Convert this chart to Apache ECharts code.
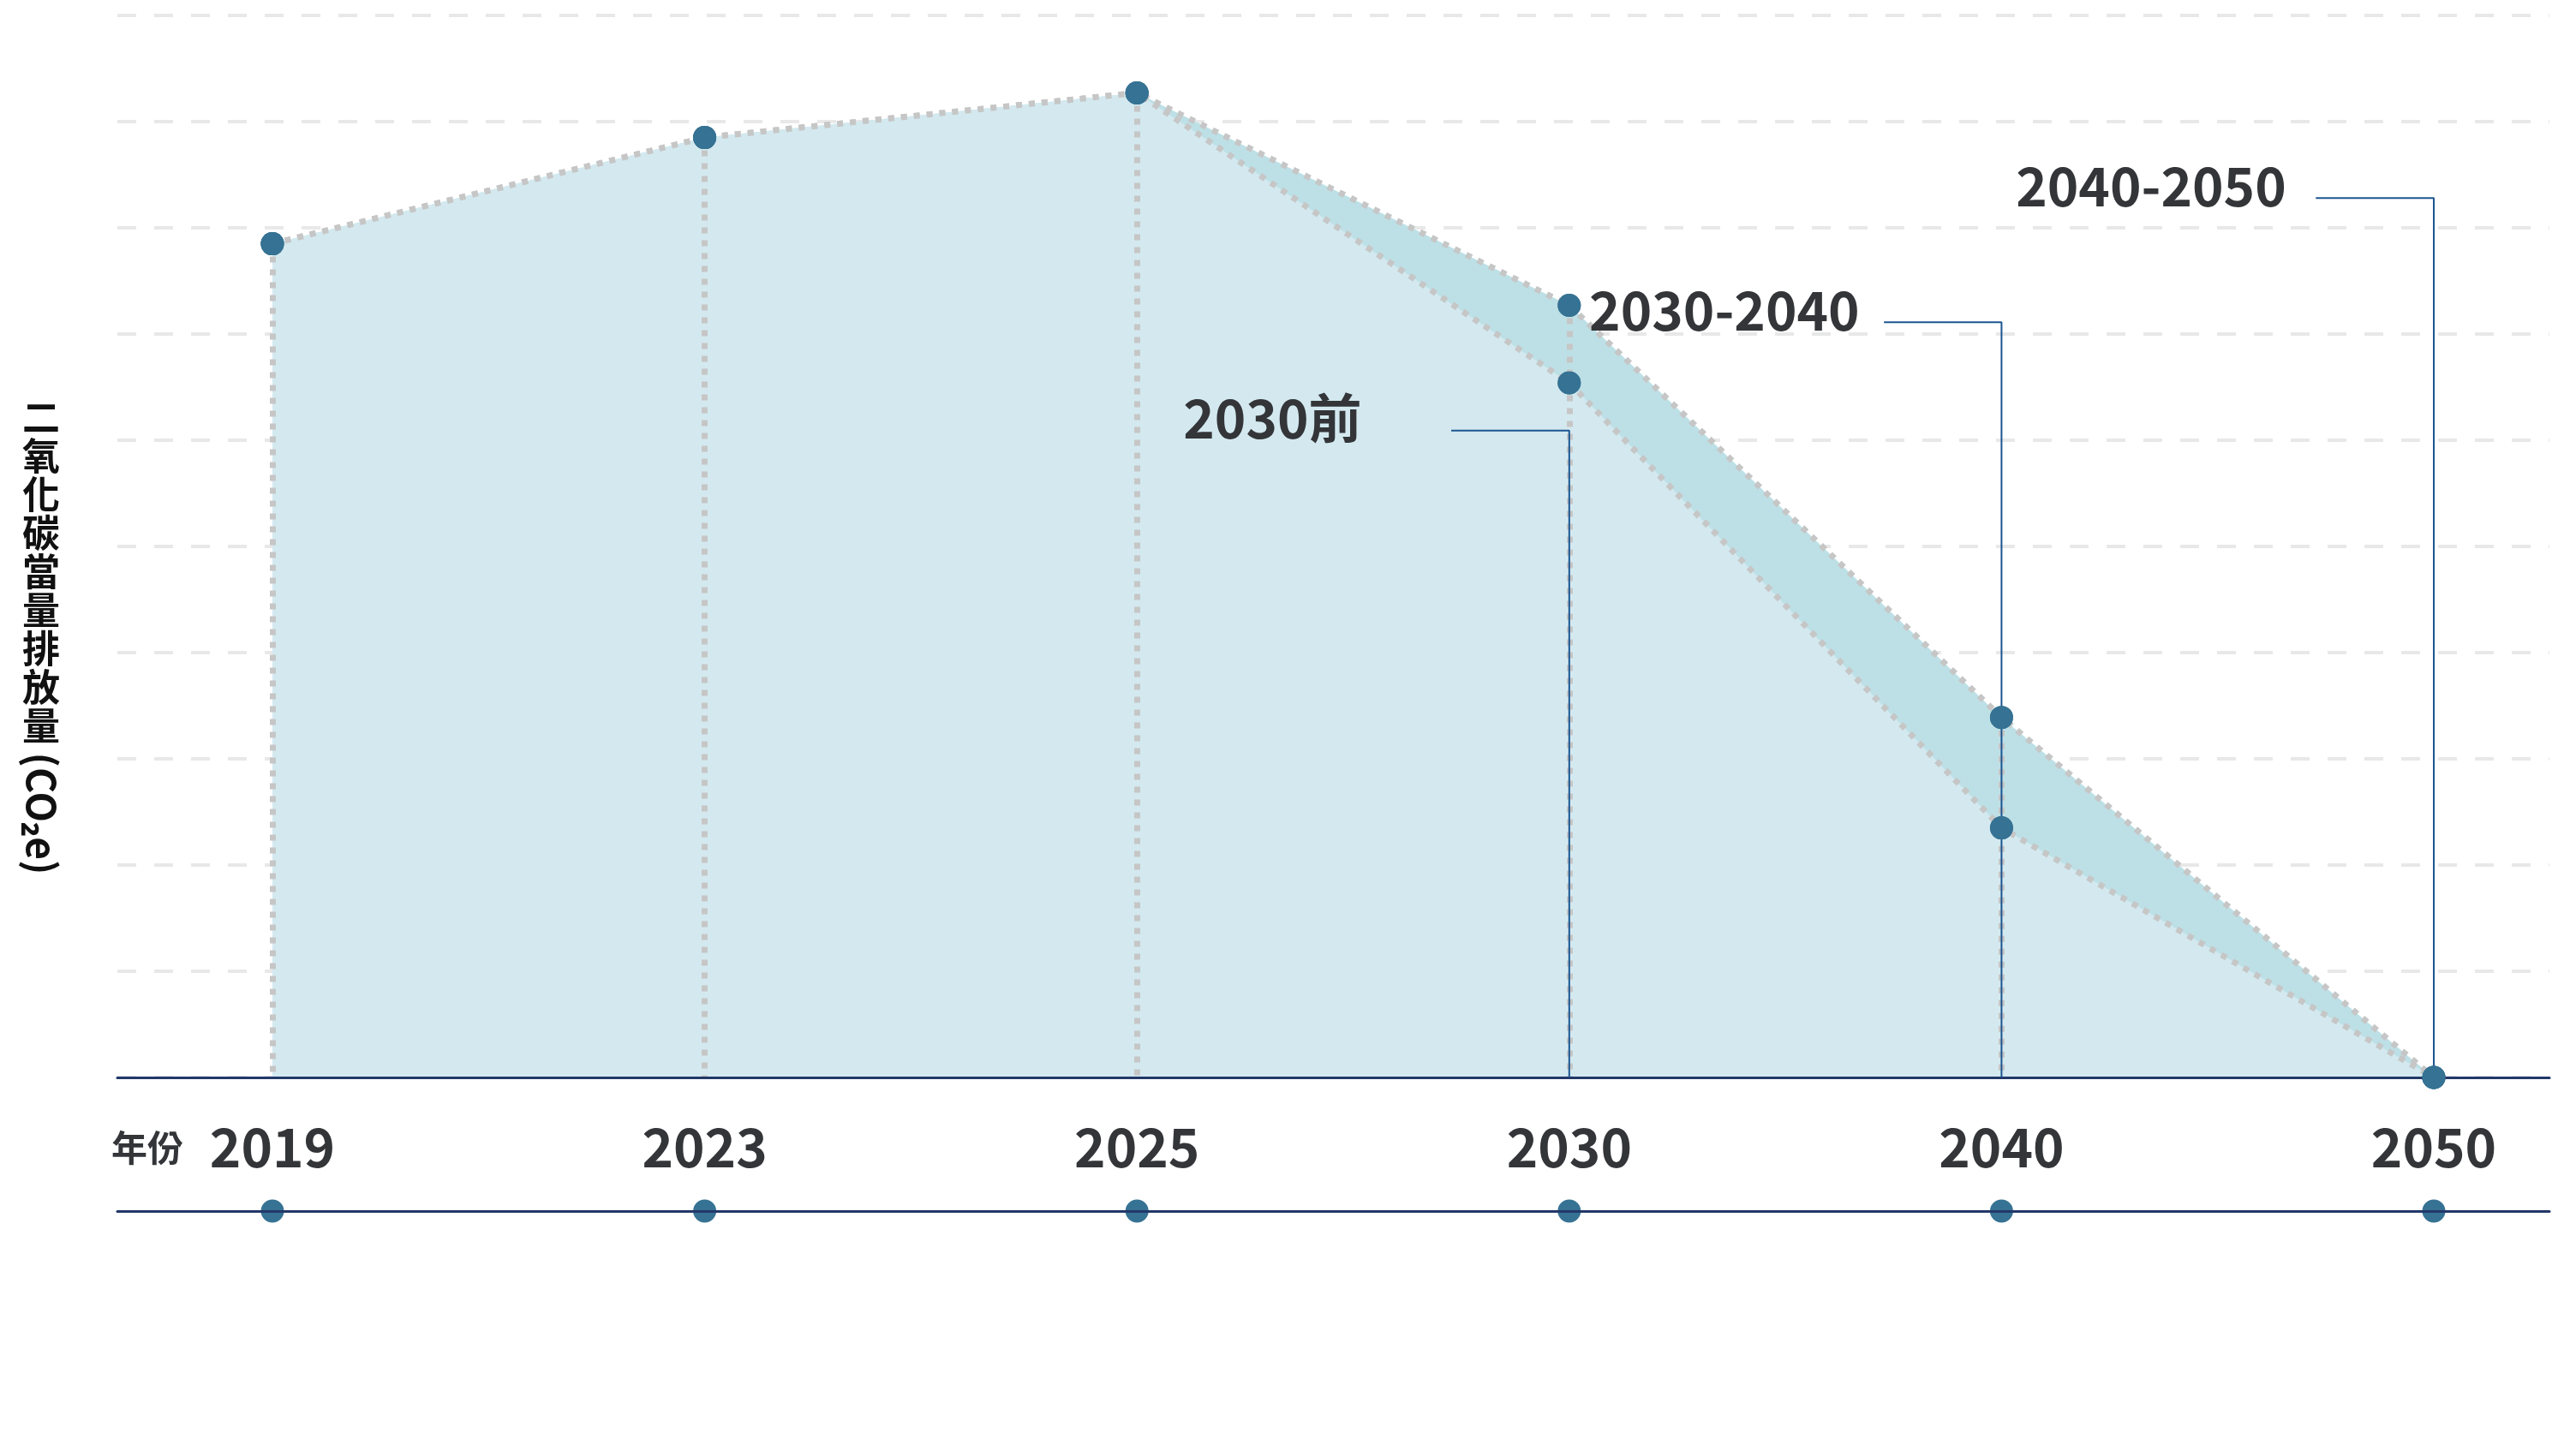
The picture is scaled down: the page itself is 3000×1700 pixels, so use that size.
<!DOCTYPE html>
<html><head><meta charset="utf-8">
<script src="https://cdn.jsdelivr.net/npm/echarts@6/dist/echarts.min.js"></script>
<style>html,body{margin:0;padding:0;background:#fff}#c{width:3000px;height:1700px}</style>
</head><body><div id="c"></div>
<script>
// ---- data ----
const years = ['2019', '2023', '2025', '2030', '2040', '2050'];
const upperPath = [7.85, 8.85, 9.27, 7.27, 3.39, 0];
const lowerPath = [7.85, 8.85, 9.27, 6.54, 2.35, 0];
const annoLabels = ['2030前', '2030-2040', '2040-2050'];
const annoAnchorIndex = [3, 4, 5];
const annoStartX = [2.727, 3.728, 4.727];
const annoY = [6.09, 7.11, 8.28];
const yAxisName = '二氧化碳當量排放量';
const yAxisUnit = '(CO₂e)';
const xAxisName = '年份';
const yMin = 0, yMax = 10, yStep = 1;

// ---- styles ----
const FONT = "'Noto Sans CJK TC','Noto Sans CJK SC','Noto Sans',sans-serif";
const DOT = '#367293';
const NAVY = '#22386a';
const GREY = '#c6c6c6';
const TEXT = '#333538';
const annoGap = [104, 28, 34];
const xMin = -0.3587, xMax = 5.2675;

const chart = echarts.init(document.getElementById('c'), null, {renderer: 'canvas'});

const idx = years.map((_, i) => i);
const upperData = idx.map(i => [i, upperPath[i]]);
const lowerData = idx.map(i => [i, lowerPath[i]]);
const dropLines = idx.filter(i => upperPath[i] > 0).map(i => [
  {coord: [i, upperPath[i]]}, {coord: [i, 0]}
]);

const annoSeries = annoLabels.map((t, k) => ({
  type: 'line', xAxisIndex: 0, yAxisIndex: 0, z: 6,
  symbol: 'none', silent: true, animation: false,
  lineStyle: {color: '#1d5590', width: 2},
  data: [[annoStartX[k], annoY[k]], [annoAnchorIndex[k], annoY[k]], [annoAnchorIndex[k], 0]]
}));
const annoLabelSeries = {
  type: 'scatter', xAxisIndex: 0, yAxisIndex: 0, z: 7, silent: true, animation: false,
  symbolSize: 1, itemStyle: {color: 'rgba(0,0,0,0)', opacity: 1},
  data: annoLabels.map((t, k) => ({
    value: [annoStartX[k], annoY[k]],
    label: {
      show: true, position: 'left', distance: annoGap[k], offset: [0, -14],
      formatter: t, fontFamily: FONT, fontWeight: 'bold', fontSize: 62, color: TEXT
    }
  }))
};

const option = {
  backgroundColor: '#ffffff',
  animation: false,
  grid: [
    {left: 137, right: 24, top: 18, bottom: 442, containLabel: false},
    {left: 137, right: 24, top: 1300, bottom: 286, containLabel: false}
  ],
  xAxis: [
    {type: 'value', gridIndex: 0, min: xMin, max: xMax, z: 5,
      axisLine: {show: true, onZero: false, lineStyle: {color: NAVY, width: 3}},
      axisTick: {show: false}, axisLabel: {show: false}, splitLine: {show: false}},
    {type: 'value', gridIndex: 1, min: xMin, max: xMax, z: 10,
      axisLine: {show: true, onZero: false, lineStyle: {color: NAVY, width: 3}},
      axisTick: {show: false}, axisLabel: {show: false}, splitLine: {show: false}}
  ],
  yAxis: [
    {type: 'value', gridIndex: 0, min: yMin, max: yMax, interval: yStep,
      axisLine: {show: false}, axisTick: {show: false}, axisLabel: {show: false},
      splitLine: {show: true, lineStyle: {color: '#e8e8e8', width: 4, type: [22, 21]}}},
    {type: 'value', gridIndex: 1, min: 0, max: 1, show: false}
  ],
  graphic: [
    {type: 'text', x: 48, y: 465, z: 10,
      style: {text: yAxisName.split('').join('\n'), fontFamily: FONT, fontWeight: 'bold',
        fontSize: 44, lineHeight: 45, fill: '#111', align: 'center', verticalAlign: 'top'}},
    {type: 'text', x: 48, y: 950, rotation: -Math.PI / 2, z: 10,
      style: {text: yAxisUnit, fontFamily: FONT, fontWeight: 'bold', fontSize: 46,
        fill: '#111', align: 'center', verticalAlign: 'middle'}},
    {type: 'text', x: 172, y: 1340, z: 10,
      style: {text: xAxisName, fontFamily: FONT, fontWeight: 'bold', fontSize: 42,
        fill: TEXT, align: 'center', verticalAlign: 'middle'}}
  ],
  series: [
    {name: 'upper', type: 'line', xAxisIndex: 0, yAxisIndex: 0, z: 2,
      data: upperData, symbol: 'circle', symbolSize: 27, showSymbol: true,
      itemStyle: {color: DOT},
      lineStyle: {color: GREY, width: 7, type: [7, 8]},
      areaStyle: {color: '#bde0e6', opacity: 1, origin: 'start'}},
    {name: 'lower', type: 'line', xAxisIndex: 0, yAxisIndex: 0, z: 3,
      data: lowerData, symbol: 'circle', symbolSize: 27, showSymbol: true,
      itemStyle: {color: DOT},
      lineStyle: {color: GREY, width: 7, type: [7, 8]},
      areaStyle: {color: '#d3e9ef', opacity: 1, origin: 'start'},
      markLine: {silent: true, symbol: 'none', animation: false, z: 4,
        label: {show: false},
        lineStyle: {color: GREY, width: 7, type: [7, 8]},
        data: dropLines}},
    {name: 'upperDots', type: 'scatter', xAxisIndex: 0, yAxisIndex: 0, z: 8,
      data: upperData, symbolSize: 27, itemStyle: {color: DOT, opacity: 1}},
    {name: 'lowerDots', type: 'scatter', xAxisIndex: 0, yAxisIndex: 0, z: 8,
      data: lowerData, symbolSize: 27, itemStyle: {color: DOT, opacity: 1}},
    ...annoSeries,
    annoLabelSeries,
    {name: 'timeline', type: 'scatter', xAxisIndex: 1, yAxisIndex: 1, z: 5,
      data: idx.map(i => [i, 0]), symbolSize: 27, itemStyle: {color: DOT, opacity: 1},
      label: {show: true, position: 'top', distance: 30,
        formatter: p => years[p.dataIndex],
        fontFamily: FONT, fontWeight: 'bold', fontSize: 62, color: TEXT}}
  ]
};
chart.setOption(option);
</script></body></html>
